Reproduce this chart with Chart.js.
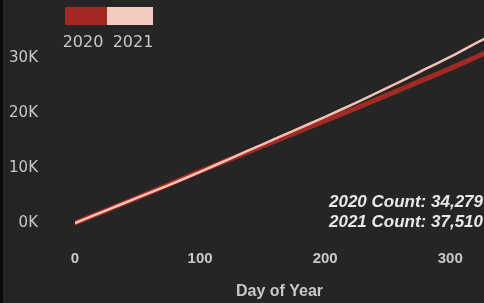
<!DOCTYPE html>
<html>
<head>
<meta charset="utf-8">
<script src="https://cdn.jsdelivr.net/npm/chart.js@4.4.1/dist/chart.umd.min.js"></script>
<style>
	html, body { margin: 0; padding: 0; background: #252525; }
	#wrap { width: 484px; height: 303px; position: relative; }
</style>
</head>
<body>
<div id="wrap"><canvas id="chart" width="484" height="303"></canvas></div>
<script>
// day of year samples
const days = [0, 25, 50, 75, 100, 125, 150, 175, 200, 225, 250, 275, 300, 325, 350, 365];
// cumulative counts
const count2020 = [0, 2300, 4600, 7000, 9400, 11700, 14000, 16300, 18600, 20900, 23300, 25700, 28100, 30600, 32900, 34279];
const count2021 = [0, 2300, 4600, 6900, 9300, 11800, 14300, 16800, 19300, 21900, 24600, 27400, 30200, 33200, 35800, 37510];
const seriesLabels = ['2020', '2021'];
const yTicks = [0, 10000, 20000, 30000];
const xTicks = [0, 100, 200, 300];

const colors = {
	bg: '#252525',
	c2020: '#a32a22',
	c2021: '#f2c2b5',
	tick: '#c9c9c9',
	text: '#e8e8e8'
};

const toPoints = (vals) => vals.map((v, i) => ({ x: days[i], y: v }));

// legend boxes + count text, drawn on the canvas
const extras = {
	id: 'extras',
	beforeDraw(chart) {
		const ctx = chart.ctx;
		ctx.save();
		ctx.fillStyle = colors.bg;
		ctx.fillRect(0, 0, chart.width, chart.height);
		ctx.fillStyle = '#0a0a0a';
		ctx.fillRect(0, 0, 3, chart.height);
		ctx.restore();
	},
	afterDraw(chart) {
		const ctx = chart.ctx;
		ctx.save();
		ctx.fillStyle = colors.c2020;
		ctx.fillRect(65, 7, 42, 18);
		ctx.fillStyle = '#f6cbbf';
		ctx.fillRect(107, 7, 46, 18);

		ctx.font = '16px "DejaVu Sans"';
		ctx.fillStyle = colors.tick;
		ctx.textBaseline = 'middle';
		ctx.textAlign = 'center';
		ctx.fillText(seriesLabels[0], 83, 43);
		ctx.fillText(seriesLabels[1], 133, 43);

		ctx.font = 'italic bold 17px "Liberation Sans"';
		ctx.fillStyle = colors.text;
		ctx.textAlign = 'right';
		const fmt = (n) => n.toLocaleString('en-US');
		ctx.fillText(seriesLabels[0] + ' Count: ' + fmt(count2020[count2020.length - 1]), 483, 202);
		ctx.fillText(seriesLabels[1] + ' Count: ' + fmt(count2021[count2021.length - 1]), 483, 222);
		ctx.restore();
	}
};

new Chart(document.getElementById('chart'), {
	type: 'line',
	data: {
		datasets: [{
			label: seriesLabels[0],
			data: toPoints(count2020),
			borderColor: colors.c2020,
			borderWidth: 5,
			pointRadius: 0,
			tension: 0.3,
			borderCapStyle: 'round',
			order: 1
		}, {
			label: seriesLabels[1],
			data: toPoints(count2021),
			borderColor: colors.c2021,
			borderWidth: 2.5,
			pointRadius: 0,
			tension: 0.3,
			borderCapStyle: 'round',
			order: 0
		}]
	},
	options: {
		responsive: false,
		animation: false,
		layout: { padding: 0 },
		plugins: {
			legend: { display: false },
			tooltip: { enabled: false }
		},
		scales: {
			x: {
				type: 'linear',
				min: 0,
				max: 327,
				grid: { display: false, drawTicks: false },
				border: { display: false },
				afterBuildTicks(scale) {
					scale.ticks = xTicks.map(v => ({ value: v }));
				},
				afterFit(scale) {
					scale.height = 63;
					scale.paddingLeft = 0;
					scale.paddingRight = 0;
				},
				ticks: {
					color: colors.tick,
					font: { family: 'Liberation Sans', size: 15, weight: 'bold' },
					padding: 10,
					maxRotation: 0
				},
				title: {
					display: true,
					text: 'Day of Year',
					color: colors.tick,
					font: { family: 'Liberation Sans', size: 16, weight: 'bold' },
					padding: { top: 4, bottom: 2 }
				}
			},
			y: {
				min: -3091,
				max: 40545,
				grid: { display: false, drawTicks: false },
				border: { display: false },
				afterBuildTicks(scale) {
					scale.ticks = yTicks.map(v => ({ value: v }));
				},
				afterFit(scale) {
					scale.width = 75;
					scale.paddingTop = 0;
					scale.paddingBottom = 0;
				},
				ticks: {
					color: colors.tick,
					font: { family: 'DejaVu Sans', size: 15 },
					padding: 37,
					callback: (v) => (v / 1000) + 'K'
				}
			}
		}
	},
	plugins: [extras]
});
</script>
</body>
</html>
